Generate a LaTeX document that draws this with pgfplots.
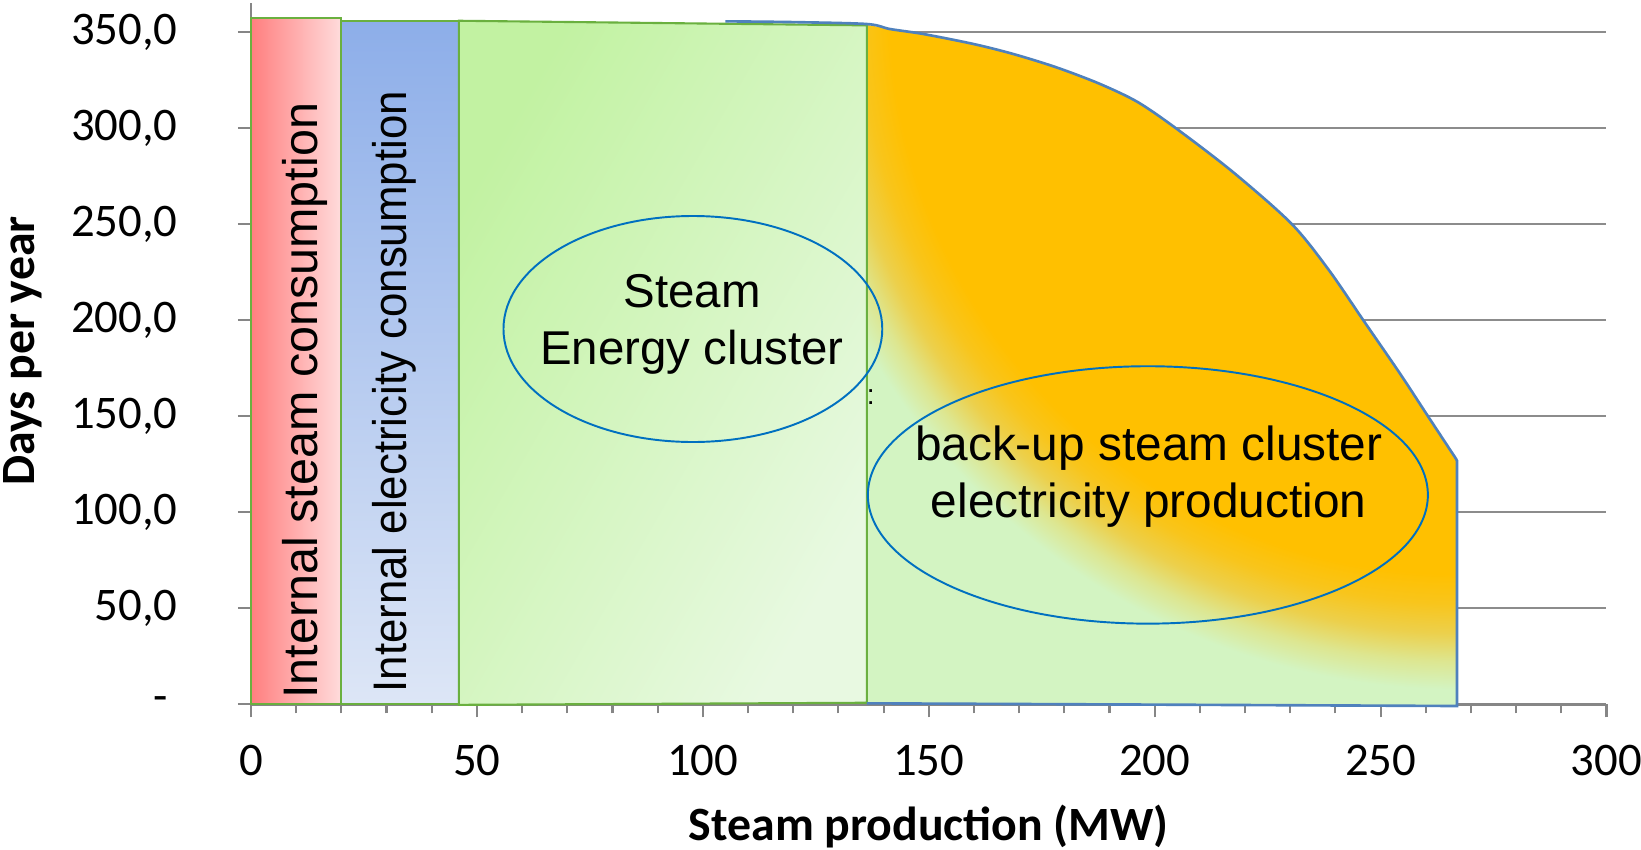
\documentclass[border=0pt]{standalone}
\usepackage{fontspec}
\setmainfont{Carlito}
\newfontfamily\arialf{Liberation Sans}
\usepackage{graphicx}
\usepackage{pgfplots}
\pgfplotsset{compat=1.18}

\definecolor{cR1}{HTML}{FF7F7F}
\definecolor{cR2}{HTML}{FFDCDC}
\definecolor{cB1}{HTML}{8DAEE9}
\definecolor{cB2}{HTML}{DDE6F6}
\definecolor{cG1}{HTML}{C2F2A2}
\definecolor{cG2}{HTML}{E8F9E1}
\definecolor{cGL}{HTML}{6AB03F}
\definecolor{cBL}{HTML}{4F81BD}
\definecolor{cEl}{HTML}{0070C0}
\definecolor{cOr}{HTML}{FFC000}
\definecolor{cYO}{HTML}{F8C51C}
\definecolor{cYe}{HTML}{ECD04C}
\definecolor{cYG}{HTML}{DDE690}
\definecolor{cGr}{HTML}{D3F4C2}
\definecolor{cAx}{HTML}{868686}
\definecolor{cGrid}{HTML}{8C8C8C}

% radial glow of the back-up area; the path box is made square round (267.5,364.6),
% 25bp = half its side
\pgfdeclareradialshading{orangeglow}{\pgfpoint{0bp}{0bp}}{%
  color(0bp)=(cOr); color(20.3bp)=(cOr); color(21.35bp)=(cYO);
  color(22.4bp)=(cYe); color(23.4bp)=(cYG); color(24.4bp)=(cGr);
  color(50bp)=(cGr)}

\begin{document}
\begin{tikzpicture}
\path[use as bounding box] (-25.1mm,-14.57mm) rectangle (139.0mm,70.43mm);
\begin{axis}[
    at={(0,0)}, anchor=south west,
    scale only axis,
    width=135.55mm, height=70.1mm,
    xmin=0, xmax=300, ymin=0, ymax=365,
    axis lines*=left,
    axis line style={cAx, line width=0.75pt},
    xtick={0,50,...,300},
    minor x tick num=4,
    ytick={0,50,...,350},
    yticklabels={{-\hspace*{1mm}},{50,0},{100,0},{150,0},{200,0},{250,0},{300,0},{350,0}},
    /pgf/number format/assume math mode=true,
    tick align=outside,
    major tick length=1.3mm,
    minor tick length=0.9mm,
    tick style={cAx, line width=0.6pt},
    ymajorgrids,
    grid style={cGrid, line width=0.6pt},
    ticklabel style={font=\fontsize{13.3}{16}\selectfont},
    yticklabel style={anchor=east, xshift=-4.8mm},
    xticklabel style={anchor=north, yshift=-1.5mm},
    xlabel={Steam production (MW)},
    ylabel={Days per year},
    label style={font=\bfseries\fontsize{13.6}{16}\selectfont},
    xlabel style={at={(axis description cs:0.5,-0.175)}, anchor=center},
    ylabel style={at={(axis description cs:-0.1682,0.504)}, anchor=center},
    clip=false,
]

% internal steam consumption
\addplot[draw=cGL, line width=0.6pt, left color=cR1, right color=cR2]
  coordinates {(0,0) (0,357.3) (20,357.3) (20,0)} -- cycle;

% internal electricity consumption
\addplot[draw=cGL, line width=0.6pt, top color=cB1, bottom color=cB2]
  coordinates {(20,0) (20,355.9) (46,355.9) (46,0)} -- cycle;

% back-up steam cluster / electricity production
\addplot[draw=none, shade, shading=orangeglow]
  coordinates {
    (136.3,0.5) (136.3,353.8) (141.4,351.6) (148.8,349.0) (159.9,343.8)
    (168.7,338.6) (178.3,331.6) (187.9,323.0) (196.3,313.5) (204.9,299.6)
    (217.4,277.0) (230.3,250.2) (238.5,226.3) (246.2,199.9) (254.3,172.2)
    (260.6,149.6) (266.9,127.1) (266.9,-0.9)
  } -- cycle (axis cs:112,-0.9) (axis cs:423,730.1);

% steam energy cluster
\addplot[draw=cGL, line width=0.6pt, top color=cG1, bottom color=cG2, shading angle=60]
  coordinates {(46,-0.3) (46,355.9) (136.3,353.5) (136.3,0.8)} -- cycle;

% production duration curve
\addplot[cBL, line width=0.75pt, smooth, tension=0.5] coordinates {
    (105,355.6) (120,355.2) (136.3,354.2) (141.4,351.6) (148.8,349.0) (159.9,343.8)
    (168.7,338.6) (178.3,331.6) (187.9,323.0) (196.3,313.5) (204.9,299.6)
    (217.4,277.0) (230.3,250.2) (238.5,226.3) (246.2,199.9) (254.3,172.2)
    (260.6,149.6) (266.9,127.1)
};
\addplot[cBL, line width=0.75pt] coordinates {
    (266.9,127.1) (266.9,-0.9) (136.3,0.5)
};

% annotations
\draw[cEl, line width=0.55pt] (axis cs:97.8,195.4) ellipse [x radius=18.94mm, y radius=11.3mm];
\draw[cEl, line width=0.55pt] (axis cs:198.5,109) ellipse [x radius=28.0mm, y radius=12.87mm];

\node[rotate=90, font=\arialf\fontsize{13.8}{16}\selectfont] at (axis cs:11.9,158.1)
  {Internal steam consumption};
\node[rotate=90, font=\arialf\fontsize{13.4}{16}\selectfont] at (axis cs:31.8,162.7)
  {\scalebox{0.93}[1]{Internal electricity consumption}};

\node[align=center, font=\arialf\fontsize{13.5}{16.4}\selectfont] at (axis cs:97.6,197.8)
  {Steam\\Energy cluster};
\node[align=center, font=\arialf\fontsize{13.6}{16.1}\selectfont] at (axis cs:198.7,118.6)
  {back-up steam cluster\\electricity production};
\node[font=\arialf\fontsize{8}{9}\selectfont] at (axis cs:137.2,160) {:};

\end{axis}
\end{tikzpicture}
\end{document}
